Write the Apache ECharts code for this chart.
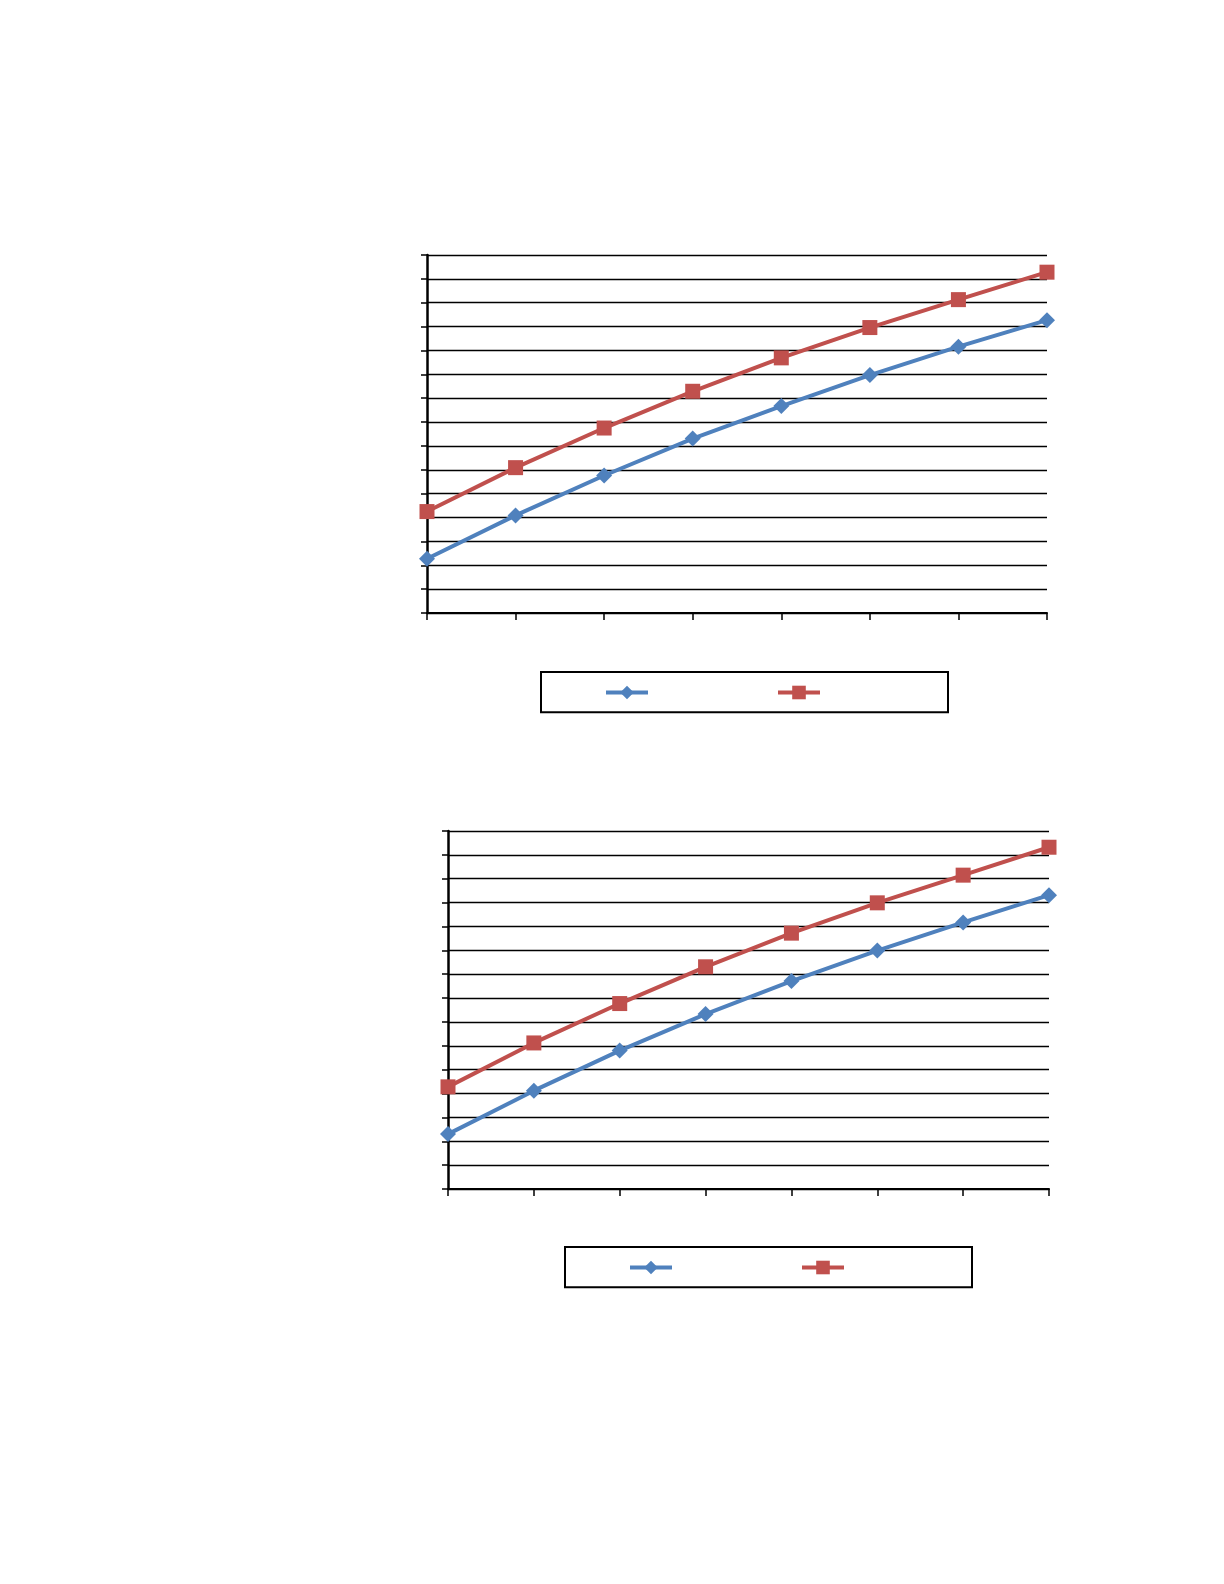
<!DOCTYPE html>
<html>
<head>
<meta charset="utf-8">
<script src="https://cdn.jsdelivr.net/npm/echarts@6/dist/echarts.min.js"></script>
<style>html,body{margin:0;padding:0;background:#fff}#c{width:1224px;height:1584px}</style>
</head>
<body>
<div id="c"></div>
<script>
var categories = ['1', '2', '3', '4', '5', '6', '7', '8'];
var blueTop = [2.27, 4.09, 5.76, 7.31, 8.67, 9.97, 11.16, 12.27];
var redTop = [4.25, 6.09, 7.75, 9.29, 10.69, 11.96, 13.13, 14.28];
var blueBottom = [2.3, 4.12, 5.8, 7.33, 8.71, 9.99, 11.17, 12.31];
var redBottom = [4.28, 6.12, 7.77, 9.31, 10.72, 11.99, 13.15, 14.32];
var seriesNames = ['A1', 'B1', 'A2', 'B2'];

var BLUE = '#4F81BD', RED = '#C0504D';
var chart = echarts.init(document.getElementById('c'), null, {renderer: 'canvas'});

function xAx(gi) {
  return {
    gridIndex: gi, type: 'category', data: categories, boundaryGap: false,
    axisLine: {lineStyle: {color: '#000', width: 2}},
    axisTick: {show: true, length: 7, lineStyle: {color: '#000', width: 1.5}, alignWithLabel: true},
    axisLabel: {show: false}, splitLine: {show: false}
  };
}
function yAx(gi) {
  return {
    gridIndex: gi, type: 'value', min: 0, max: 15, interval: 1,
    axisLine: {show: true, lineStyle: {color: '#000', width: 2.5}},
    axisTick: {show: true, length: 6, lineStyle: {color: '#000', width: 1.5}},
    axisLabel: {show: false},
    splitLine: {show: true, lineStyle: {color: '#000', width: 1.3}}
  };
}
function lineSeries(name, data, gi, color, symbol, size) {
  return {
    name: name, type: 'line', xAxisIndex: gi, yAxisIndex: gi, data: data,
    symbol: symbol, symbolSize: size, showSymbol: true,
    lineStyle: {color: color, width: 4}, itemStyle: {color: color},
    z: 5, animation: false
  };
}
function legendFor(gi, names, left, top) {
  return {
    data: names, left: left, top: top, orient: 'horizontal',
    formatter: function () { return ''; },
    itemWidth: 42, itemHeight: 17, itemGap: 126,
    lineStyle: {width: 4},
    borderColor: '#000', borderWidth: 2,
    padding: [12, 126, 13, 63],
    selectedMode: false
  };
}

chart.setOption({
  animation: false,
  backgroundColor: '#fff',
  grid: [
    {left: 427, top: 255, width: 620, height: 358},
    {left: 448, top: 831, width: 601, height: 358}
  ],
  xAxis: [xAx(0), xAx(1)],
  yAxis: [yAx(0), yAx(1)],
  legend: [
    legendFor(0, [seriesNames[0], seriesNames[1]], 541, 672),
    legendFor(1, [seriesNames[2], seriesNames[3]], 565, 1247)
  ],
  series: [
    lineSeries(seriesNames[0], blueTop, 0, BLUE, 'diamond', 16),
    lineSeries(seriesNames[1], redTop, 0, RED, 'rect', 15),
    lineSeries(seriesNames[2], blueBottom, 1, BLUE, 'diamond', 16),
    lineSeries(seriesNames[3], redBottom, 1, RED, 'rect', 15)
  ]
});
</script>
</body>
</html>
